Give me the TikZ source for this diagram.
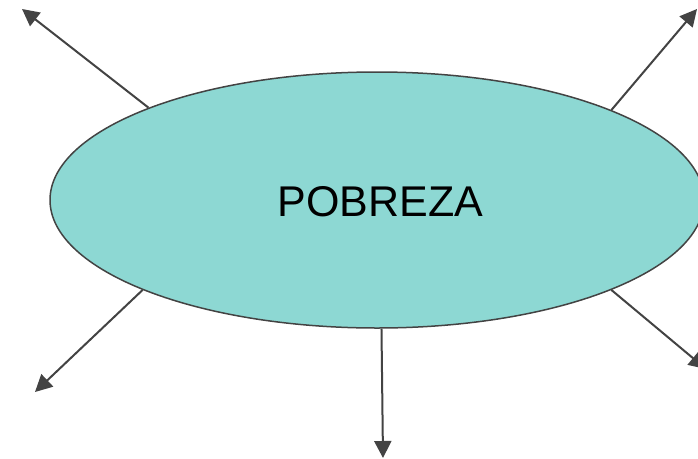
\documentclass[tikz,border=0pt]{standalone}
\usepackage{fontspec}
\setmainfont{Liberation Sans}
\usetikzlibrary{shapes.geometric,arrows.meta}
\definecolor{fillc}{HTML}{8DD8D3}
\definecolor{linec}{HTML}{434343}
\tikzset{
  bubble/.style={ellipse, draw=linec, line width=1.5pt, fill=fillc, minimum width=654pt, minimum height=256pt, inner sep=0pt},
  label/.style={font=\fontsize{43}{50}\selectfont, inner sep=0pt},
  conn/.style={draw=linec, line width=2pt, -{Triangle[length=17pt,width=17pt]}}
}
\begin{document}
\begin{tikzpicture}[x=1pt,y=-1pt]
\useasboundingbox (0,0) rectangle (698,458);
\node[bubble] (p) at (377,200) {};
\node[label] (t) at (380.5,202) {POBREZA};
\coordinate (tl) at (22,9);
\coordinate (tr) at (697,9);
\coordinate (br) at (706,369);
\coordinate (bl) at (35,392);
\coordinate (bt) at (383,458);
\draw[conn] (p.158.4) -- (tl);
\draw[conn] (p.21.3) -- (tr);
\draw[conn] (p.-21.1) -- (br);
\draw[conn] (p.201.7) -- (bl);
\draw[conn] (p.-88.7) -- (bt);
\end{tikzpicture}
\end{document}
